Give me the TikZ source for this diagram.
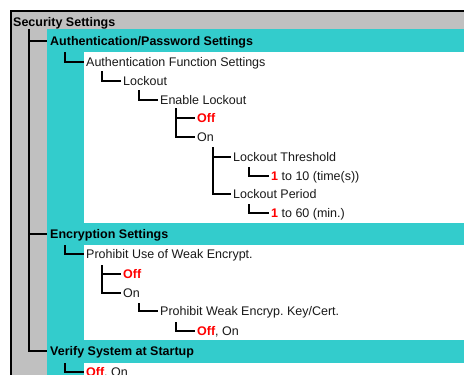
\documentclass[tikz,border=0pt]{standalone}
\usepackage{fontspec}
\setmainfont{Liberation Sans}
\frenchspacing
\definecolor{hdrgray}{RGB}{192,192,192}
\definecolor{tcyan}{RGB}{51,204,204}
\definecolor{tred}{RGB}{255,0,0}
\definecolor{ttext}{RGB}{25,25,25}
\tikzset{
  lbl/.style={anchor=west,inner sep=0pt,text height=9pt,text depth=0pt,text=ttext,font=\fontsize{12.5}{14}\selectfont},
  blbl/.style={lbl,text=black,font=\fontsize{12.5}{14}\selectfont\bfseries},
  conn/.style={line width=1.4pt},
  frame/.style={line width=2pt},
}
\newcommand{\rd}[1]{\textcolor{tred}{\bfseries #1}}
\begin{document}
\begin{tikzpicture}[x=1pt,y=-1pt]
\useasboundingbox (0,0) rectangle (464,375);
% backgrounds
\fill[hdrgray] (11,11) rectangle (464,375);
\fill[tcyan] (47,29) rectangle (464,375);
\fill[white] (84,52) rectangle (464,223);
\fill[white] (84,245) rectangle (464,340);
\fill[white] (84,363) rectangle (464,375);
% frame
\draw[frame] (464,11) -- (11,11) -- (11,375);
% labels
\node[blbl] (sec) at (13,22) {Security Settings};
\node[blbl] (auth) at (50,41) {Authentication/Password Settings};
\node[lbl] (afs) at (86,62) {Authentication Function Settings};
\node[lbl] (lock) at (123,81) {Lockout};
\node[lbl] (enl) at (160,100) {Enable Lockout};
\node[lbl] (off1) at (197,118) {\rd{Off}};
\node[lbl] (on1) at (197,137) {On};
\node[lbl] (lth) at (233,157) {Lockout Threshold};
\node[lbl] (lthv) at (271,176) {\rd{1} to 10 (time(s))};
\node[lbl] (lpe) at (233,194) {Lockout Period};
\node[lbl] (lpev) at (271,213) {\rd{1} to 60 (min.)};
\node[blbl] (enc) at (50,234) {Encryption Settings};
\node[lbl] (puw) at (86,254) {Prohibit Use of Weak Encrypt.};
\node[lbl] (off2) at (123,274) {\rd{Off}};
\node[lbl] (on2) at (123,293) {On};
\node[lbl] (pwk) at (160,311) {Prohibit Weak Encryp. Key/Cert.};
\node[lbl] (pwkv) at (197,331) {\rd{Off}, On};
\node[blbl] (ver) at (50,351) {Verify System at Startup};
\node[lbl] (verv) at (86,372) {\rd{Off}, On};
% connector tops
\coordinate (t1) at (29,29);
\coordinate (t2) at (65,52);
\coordinate (t3) at (102,71);
\coordinate (t4) at (139,90);
\coordinate (t5) at (176,108);
\coordinate (t6) at (213,147);
\coordinate (t7) at (249,167);
\coordinate (t8) at (249,204);
\coordinate (t9) at (65,245);
\coordinate (t10) at (102,265);
\coordinate (t11) at (139,303);
\coordinate (t12) at (176,322);
\coordinate (t13) at (65,363);
% connectors
\draw[conn] (t1) |- ([xshift=-3pt]ver.west);
\draw[conn] (t1 |- auth.west) -- ([xshift=-3pt]auth.west);
\draw[conn] (t1 |- enc.west) -- ([xshift=-3pt]enc.west);
\draw[conn] (t2) |- ([xshift=-2pt]afs.west);
\draw[conn] (t3) |- ([xshift=-2pt]lock.west);
\draw[conn] (t4) |- ([xshift=-2pt]enl.west);
\draw[conn] (t5) |- ([xshift=-2pt]on1.west);
\draw[conn] (t5 |- off1.west) -- ([xshift=-2pt]off1.west);
\draw[conn] (t6) |- ([xshift=-2pt]lpe.west);
\draw[conn] (t6 |- lth.west) -- ([xshift=-2pt]lth.west);
\draw[conn] (t7) |- ([xshift=-2pt]lthv.west);
\draw[conn] (t8) |- ([xshift=-2pt]lpev.west);
\draw[conn] (t9) |- ([xshift=-2pt]puw.west);
\draw[conn] (t10) |- ([xshift=-2pt]on2.west);
\draw[conn] (t10 |- off2.west) -- ([xshift=-2pt]off2.west);
\draw[conn] (t11) |- ([xshift=-2pt]pwk.west);
\draw[conn] (t12) |- ([xshift=-2pt]pwkv.west);
\draw[conn] (t13) |- ([xshift=-2pt]verv.west);
\end{tikzpicture}
\end{document}
